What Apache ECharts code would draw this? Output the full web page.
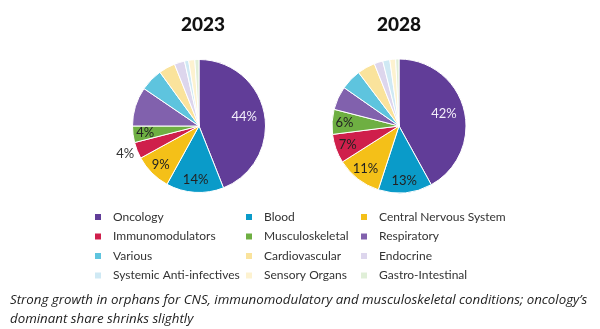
<!DOCTYPE html>
<html>
<head>
<meta charset="utf-8">
<script src="https://cdn.jsdelivr.net/npm/echarts@6/dist/echarts.min.js"></script>
<style>
  html, body { margin: 0; padding: 0; background: #fff; }
  #chart { width: 600px; height: 329px; }
</style>
</head>
<body>
<div id="chart"></div>
<script>
// Therapy areas, in slice order (clockwise from 12 o'clock)
const categories = [
  'Oncology', 'Blood', 'Central Nervous System', 'Immunomodulators',
  'Musculoskeletal', 'Respiratory', 'Various', 'Cardiovascular',
  'Endocrine', 'Systemic Anti-infectives', 'Sensory Organs', 'Gastro-Intestinal'
];
// Share of orphan drug sales, %
const share2023 = [44, 14, 9, 4, 4, 9.5, 5.5, 4, 2.5, 1, 1.5, 1];
const share2028 = [42, 13, 11, 7, 6, 5.7, 5, 4.3, 2.1, 1.7, 1.4, 0.8];
// Slices that carry a percentage label
const labelled2023 = ['Oncology', 'Blood', 'Central Nervous System', 'Immunomodulators', 'Musculoskeletal'];
const labelled2028 = ['Oncology', 'Blood', 'Central Nervous System', 'Immunomodulators', 'Musculoskeletal'];
const yearTitles = ['2023', '2028'];

const palette = [
  '#613d98', '#0a9bc9', '#f4c018', '#cf1f4b',
  '#6eaf42', '#8161ad', '#5ec4de', '#fae39c',
  '#ddd6ed', '#cfe9f4', '#fdf2d0', '#e0efd8'
];

const FONT = 'Lato, "Open Sans", sans-serif';

function sliceData(values) {
  return categories.map((name, i) => ({ name, value: values[i] }));
}

function labelData(values, labelled, outsideNames) {
  return categories.map((name, i) => {
    const show = labelled.indexOf(name) >= 0;
    const outside = outsideNames.indexOf(name) >= 0;
    const item = { name, value: values[i] };
    if (outside) {
      item.label = { show: true, position: 'outside', color: '#333', offset: [3, 3] };
      item.labelLine = { show: false, length: 1, length2: 0 };
    } else if (name === 'Oncology') {
      // the big slice keeps its label a little further in
      item.label = { show, position: 'inside', color: '#f3eefa', offset: [-8, 1] };
    } else {
      item.label = { show, position: 'inside', color: '#222' };
    }
    return item;
  });
}

function piePair(center, r, values, labelled, outsideNames) {
  return [
    {
      type: 'pie',
      center,
      radius: r,
      startAngle: 90,
      clockwise: true,
      avoidLabelOverlap: false,
      label: { show: false },
      labelLine: { show: false },
      itemStyle: { borderColor: '#fff', borderWidth: 1 },
      emphasis: { disabled: true },
      data: sliceData(values)
    },
    {
      // transparent ring used only to place the percentage labels near the rim
      type: 'pie',
      center,
      radius: [r * 0.54, r],
      startAngle: 90,
      clockwise: true,
      silent: true,
      avoidLabelOverlap: false,
      itemStyle: { color: 'rgba(0,0,0,0)', borderWidth: 0 },
      label: {
        fontFamily: FONT,
        fontSize: 13,
        formatter: p => Math.round(p.value) + '%'
      },
      labelLine: { show: false },
      emphasis: { disabled: true },
      data: labelData(values, labelled, outsideNames)
    }
  ];
}

const legendCols = [
  ['Oncology', 'Immunomodulators', 'Various', 'Systemic Anti-infectives'],
  ['Blood', 'Musculoskeletal', 'Cardiovascular', 'Sensory Organs'],
  ['Central Nervous System', 'Respiratory', 'Endocrine', 'Gastro-Intestinal']
];
const legendLeft = [93, 244, 359];

const chart = echarts.init(document.getElementById('chart'));
chart.setOption({
  animation: false,
  color: palette,
  title: [
    {
      text: yearTitles[0], left: 198, top: 10, textAlign: 'center',
      textStyle: { fontFamily: FONT, fontWeight: 900, fontSize: 19, color: '#111' }
    },
    {
      text: yearTitles[1], left: 394, top: 10, textAlign: 'center',
      textStyle: { fontFamily: FONT, fontWeight: 900, fontSize: 19, color: '#111' }
    }
  ],
  legend: legendCols.map((col, i) => ({
    orient: 'vertical',
    left: legendLeft[i],
    top: 210,
    padding: 0,
    data: col,
    icon: 'rect',
    itemWidth: 8,
    itemHeight: 8,
    itemGap: 5.5,
    selectedMode: false,
    textStyle: {
      fontFamily: FONT, fontSize: 12, color: '#333',
      lineHeight: 14, padding: [0, 0, 0, 6]
    }
  })),
  graphic: [
    {
      type: 'text',
      left: 10,
      top: 291,
      style: {
        text: 'Strong growth in orphans for CNS, immunomodulatory and musculoskeletal conditions; oncology\u2019s\ndominant share shrinks slightly',
        font: 'italic 13.3px "Open Sans", sans-serif',
        fill: '#222',
        lineHeight: 19
      }
    }
  ],
  series: [
    ...piePair([199, 126], 66.5, share2023, labelled2023, ['Immunomodulators']),
    ...piePair([399, 126], 67, share2028, labelled2028, [])
  ]
});
</script>
</body>
</html>
